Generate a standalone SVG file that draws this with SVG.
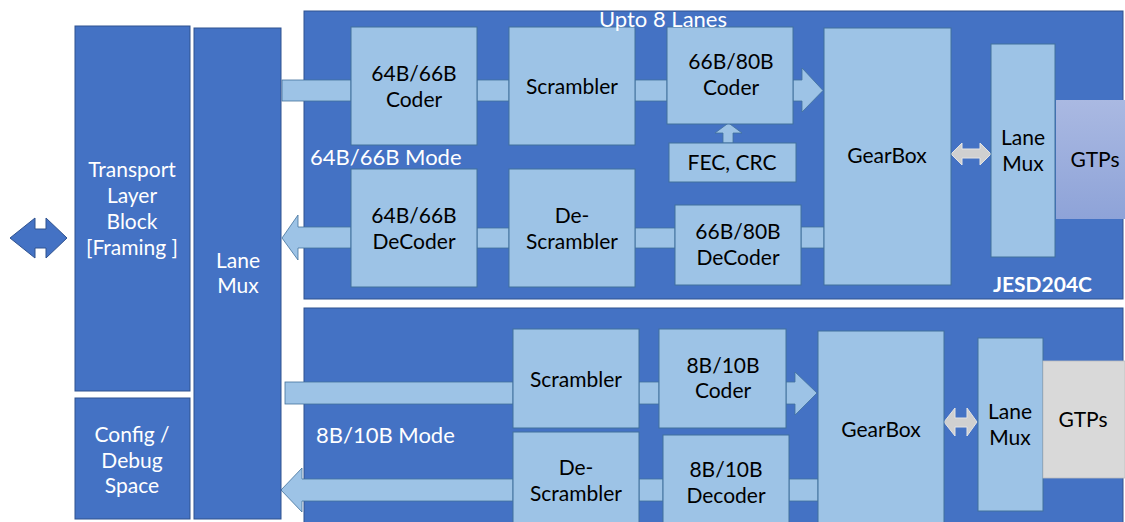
<svg xmlns="http://www.w3.org/2000/svg" width="1125" height="522" viewBox="0 0 1125 522">
  <defs>
    <linearGradient id="gtpGrad" x1="0" y1="0" x2="0" y2="1">
      <stop offset="0" stop-color="#AAB9E2"/>
      <stop offset="1" stop-color="#8EA3D8"/>
    </linearGradient>
    <style>
      .dark { fill: #4472C4; stroke: #2F528F; stroke-width: 1; }
      .light { fill: #9DC3E6; stroke: #41719C; stroke-width: 1; }
      .bar { fill: #9DC3E6; stroke: #41719C; stroke-width: 0.8; }
      .gray { fill: #D0D0D0; stroke: #E4E4E4; stroke-width: 1; }
      text { font-family: Lato, "Open Sans", "Liberation Sans", sans-serif; font-size: 21px; text-anchor: middle; }
      .wt { fill: #FFFFFF; }
      .bk { fill: #000000; }
      .lft { text-anchor: start; }
      .big { font-size: 22px; }
      .bold { font-weight: bold; }
    </style>
  </defs>

  <rect x="0" y="0" width="1125" height="522" fill="#FFFFFF"/>

  <!-- JESD204C (64B/66B) container -->
  <g id="jesd204c-region">
    <rect class="dark" x="304" y="11" width="819" height="288"/>
    <text class="wt big lft" x="310" y="165">64B/66B Mode</text>
    <text class="wt bold lft" x="993" y="292">JESD204C</text>
  </g>

  <!-- 8B/10B container -->
  <g id="mode-8b10b-region">
    <rect class="dark" x="304" y="308" width="819" height="220"/>
    <text class="wt big lft" x="316" y="443">8B/10B Mode</text>
  </g>

  <!-- connectors -->
  <g id="connectors">
    <!-- external bidirectional interface -->
    <polygon class="dark" points="10,238 35,218 35,229 46,229 46,218 67,238 46,258 46,248 35,248 35,258"/>

    <!-- 64B/66B transmit path -->
    <rect class="bar" x="282" y="80" width="69" height="21"/>
    <rect class="bar" x="477" y="80" width="32" height="21"/>
    <rect class="bar" x="635" y="80" width="32" height="21"/>
    <polygon class="bar" points="793,80 802,80 802,68 823,90.5 802,112 802,101 793,101"/>
    <polygon class="bar" points="723,143 723,133 715,133 728.5,123 742,133 733,133 733,143"/>

    <!-- 64B/66B receive path -->
    <polygon class="bar" points="282,238 298,215 298,227 351,227 351,248 298,248 298,260"/>
    <rect class="bar" x="477" y="228" width="32" height="20"/>
    <rect class="bar" x="635" y="228" width="40" height="20"/>
    <rect class="bar" x="801" y="227" width="23" height="21"/>

    <!-- gearbox to lane mux (64B/66B) -->
    <polygon class="gray" points="951,154 962,143 962,149 980,149 980,143 991,154 980,165 980,158 962,158 962,165"/>

    <!-- 8B/10B transmit path -->
    <rect class="bar" x="285" y="382" width="228" height="22"/>
    <rect class="bar" x="639" y="382" width="20" height="22"/>
    <polygon class="bar" points="786,382 795,382 795,372 817,393 795,415 795,404 786,404"/>

    <!-- 8B/10B receive path -->
    <polygon class="bar" points="281,490 302,468 302,479 513,479 513,501 302,501 302,512"/>
    <rect class="bar" x="639" y="479" width="24" height="22"/>
    <rect class="bar" x="789" y="479" width="29" height="22"/>

    <!-- gearbox to lane mux (8B/10B) -->
    <polygon class="gray" points="944,422 955,408 955,418 967,418 967,408 977,422 967,436 967,427 955,427 955,436"/>
  </g>

  <!-- shared blocks -->
  <g id="transport-layer">
    <rect class="dark" x="75" y="26" width="115" height="365"/>
    <text class="wt" x="132" y="177">Transport</text>
    <text class="wt" x="132" y="203">Layer</text>
    <text class="wt" x="132" y="229">Block</text>
    <text class="wt" x="132" y="255">[Framing ]</text>
  </g>
  <g id="config-debug">
    <rect class="dark" x="75" y="398" width="115" height="121"/>
    <text class="wt" x="132" y="442">Config /</text>
    <text class="wt" x="132" y="468">Debug</text>
    <text class="wt" x="132" y="493">Space</text>
  </g>
  <g id="lane-mux-main">
    <rect class="dark" x="194" y="28" width="87" height="491"/>
    <text class="wt" x="238" y="268">Lane</text>
    <text class="wt" x="238" y="293">Mux</text>
  </g>

  <!-- 64B/66B blocks -->
  <g id="coder-64b66b">
    <rect class="light" x="351" y="27" width="126" height="118"/>
    <text class="bk" x="414" y="81">64B/66B</text>
    <text class="bk" x="414" y="107">Coder</text>
  </g>
  <g id="scrambler-64b66b">
    <rect class="light" x="509" y="27" width="126" height="118"/>
    <text class="bk" x="572" y="94">Scrambler</text>
  </g>
  <g id="coder-66b80b">
    <rect class="light" x="667" y="27" width="126" height="97"/>
    <text class="bk" x="731" y="69">66B/80B</text>
    <text class="bk" x="731" y="95">Coder</text>
  </g>
  <g id="fec-crc">
    <rect class="light" x="669" y="143" width="127" height="39"/>
    <text class="bk" x="732" y="170">FEC, CRC</text>
  </g>
  <g id="decoder-64b66b">
    <rect class="light" x="351" y="169" width="126" height="118"/>
    <text class="bk" x="414" y="223">64B/66B</text>
    <text class="bk" x="414" y="249">DeCoder</text>
  </g>
  <g id="descrambler-64b66b">
    <rect class="light" x="509" y="169" width="126" height="118"/>
    <text class="bk" x="572" y="223">De-</text>
    <text class="bk" x="572" y="249">Scrambler</text>
  </g>
  <g id="decoder-66b80b">
    <rect class="light" x="675" y="205" width="126" height="80"/>
    <text class="bk" x="738" y="239">66B/80B</text>
    <text class="bk" x="738" y="265">DeCoder</text>
  </g>
  <g id="gearbox-64b66b">
    <rect class="light" x="824" y="28" width="127" height="257"/>
    <text class="bk" x="887" y="163">GearBox</text>
  </g>
  <g id="lane-mux-64b66b">
    <rect class="light" x="991" y="44" width="64" height="213"/>
    <text class="bk" x="1023" y="145">Lane</text>
    <text class="bk" x="1023" y="171">Mux</text>
  </g>
  <g id="gtps-64b66b">
    <rect x="1056" y="100" width="69" height="119" fill="url(#gtpGrad)"/>
    <text class="bk" x="1095" y="167">GTPs</text>
  </g>

  <!-- lane count caption, drawn over the top edge of the blocks -->
  <text id="lane-count" class="wt big" x="663" y="27">Upto 8 Lanes</text>

  <!-- 8B/10B blocks -->
  <g id="scrambler-8b10b">
    <rect class="light" x="513" y="329" width="126" height="99"/>
    <text class="bk" x="576" y="387">Scrambler</text>
  </g>
  <g id="coder-8b10b">
    <rect class="light" x="659" y="329" width="127" height="99"/>
    <text class="bk" x="723" y="373">8B/10B</text>
    <text class="bk" x="723" y="398">Coder</text>
  </g>
  <g id="descrambler-8b10b">
    <rect class="light" x="513" y="432" width="126" height="95"/>
    <text class="bk" x="576" y="475">De-</text>
    <text class="bk" x="576" y="501">Scrambler</text>
  </g>
  <g id="decoder-8b10b">
    <rect class="light" x="663" y="435" width="126" height="92"/>
    <text class="bk" x="726" y="477">8B/10B</text>
    <text class="bk" x="726" y="503">Decoder</text>
  </g>
  <g id="gearbox-8b10b">
    <rect class="light" x="818" y="331" width="126" height="196"/>
    <text class="bk" x="881" y="437">GearBox</text>
  </g>
  <g id="lane-mux-8b10b">
    <rect class="light" x="978" y="338" width="65" height="173"/>
    <text class="bk" x="1010" y="419">Lane</text>
    <text class="bk" x="1010" y="445">Mux</text>
  </g>
  <g id="gtps-8b10b">
    <rect x="1043" y="361" width="82" height="117" fill="#D9D9D9" stroke="#BFBFBF" stroke-width="0.8"/>
    <text class="bk" x="1083" y="427">GTPs</text>
  </g>
</svg>
